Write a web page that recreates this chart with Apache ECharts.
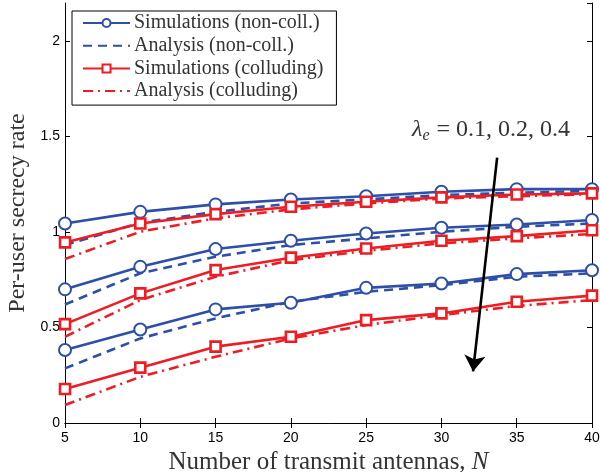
<!DOCTYPE html>
<html>
<head>
<meta charset="utf-8">
<script src="https://cdn.jsdelivr.net/npm/echarts@6/dist/echarts.min.js"></script>
<style>html,body{margin:0;padding:0;background:#fff}#c{width:600px;height:472px}</style>
</head>
<body>
<div id="c"></div>
<script>
const N = [5, 10, 15, 20, 25, 30, 35, 40];
// Simulations (non-colluding), lambda_e = 0.1, 0.2, 0.4
const simNon1 = [1.045, 1.106, 1.145, 1.171, 1.188, 1.211, 1.225, 1.225];
const simNon2 = [0.700, 0.818, 0.911, 0.955, 0.993, 1.023, 1.040, 1.063];
const simNon4 = [0.382, 0.490, 0.595, 0.630, 0.708, 0.731, 0.780, 0.800];
// Analysis (non-colluding)
const anaNon1 = [0.932, 1.049, 1.106, 1.150, 1.171, 1.194, 1.206, 1.216];
const anaNon2 = [0.621, 0.784, 0.871, 0.932, 0.967, 1.002, 1.028, 1.045];
const anaNon4 = [0.286, 0.443, 0.548, 0.635, 0.687, 0.722, 0.766, 0.784];
// Simulations (colluding)
const simCol1 = [0.946, 1.045, 1.094, 1.133, 1.159, 1.182, 1.197, 1.203];
const simCol2 = [0.518, 0.679, 0.801, 0.866, 0.914, 0.955, 0.979, 1.010];
const simCol4 = [0.178, 0.290, 0.400, 0.452, 0.539, 0.574, 0.635, 0.667];
// Analysis (colluding)
const anaCol1 = [0.859, 1.002, 1.072, 1.119, 1.150, 1.176, 1.188, 1.199];
const anaCol2 = [0.452, 0.644, 0.766, 0.853, 0.902, 0.941, 0.967, 0.990];
const anaCol4 = [0.094, 0.242, 0.347, 0.443, 0.513, 0.565, 0.613, 0.644];
// arrow annotation endpoints (data coords)
const arrowFrom = [33.7, 1.39];
const arrowTo = [32.1, 0.27];

const names = ['Simulations (non-coll.)', 'Analysis (non-coll.)', 'Simulations (colluding)', 'Analysis (colluding)'];
const BLUE = '#2D4FA7', RED = '#EE1D24';
const pair = arr => arr.map((v, i) => [N[i], v]);
const serif = 'Liberation Serif';

function mk(name, arr, color, kind) {
  const s = { name, type: 'line', data: pair(arr), clip: false, animation: false,
    lineStyle: { color, width: 2.6 }, itemStyle: { color } , z: 3};
  if (kind === 'simNon') { s.symbol = 'emptyCircle'; s.symbolSize = 12; s.itemStyle = { color, borderWidth: 2.6, borderColor: color }; }
  else if (kind === 'simCol') { s.symbol = 'rect'; s.symbolSize = 10; s.itemStyle = { color: '#fff', borderWidth: 2.6, borderColor: color }; }
  else if (kind === 'anaNon') { s.symbol = 'none'; s.lineStyle.type = [9, 6]; }
  else { s.symbol = 'none'; s.lineStyle.type = [10, 5, 2, 5]; }
  return s;
}

const series = [
  mk(names[0], simNon1, BLUE, 'simNon'), mk(names[0], simNon2, BLUE, 'simNon'), mk(names[0], simNon4, BLUE, 'simNon'),
  mk(names[1], anaNon1, BLUE, 'anaNon'), mk(names[1], anaNon2, BLUE, 'anaNon'), mk(names[1], anaNon4, BLUE, 'anaNon'),
  mk(names[2], simCol1, RED, 'simCol'), mk(names[2], simCol2, RED, 'simCol'), mk(names[2], simCol4, RED, 'simCol'),
  mk(names[3], anaCol1, RED, 'anaCol'), mk(names[3], anaCol2, RED, 'anaCol'), mk(names[3], anaCol4, RED, 'anaCol'),
  { type: 'line', data: [], silent: true, animation: false, z: 5,
    markLine: { silent: true, symbol: ['none', 'arrow'], symbolSize: 16, label: { show: false },
      itemStyle: { color: '#000' },
      lineStyle: { color: '#000', width: 2.6, type: 'solid' },
      emphasis: { disabled: true },
      data: [[{ coord: arrowFrom }, { coord: arrowTo }]] } }
];

const tickStyle = { show: true, inside: true, length: 5, lineStyle: { color: '#000', width: 1 } };
const axLine = { show: true, lineStyle: { color: '#000', width: 1 } };
const labelStyle = { color: '#000', fontSize: 14, fontFamily: 'Liberation Sans' };
const hideSym = { opacity: 0, borderWidth: 0 };

const chart = echarts.init(document.getElementById('c'), null, { renderer: 'canvas' });
chart.setOption({
  animation: false,
  backgroundColor: '#fff',
  grid: { left: 65, right: 8, top: 3, bottom: 49, outerBoundsMode: 'none' },
  xAxis: [
    { type: 'value', min: 5, max: 40, interval: 5, axisLine: axLine, axisTick: tickStyle,
      axisLabel: Object.assign({ margin: 8 }, labelStyle), splitLine: { show: false },
      name: '{a|Number of transmit antennas, }{b|N}', nameLocation: 'middle', nameGap: 22,
      nameTextStyle: { rich: { a: { fontFamily: serif, fontSize: 25, color: '#333' }, b: { fontFamily: serif, fontSize: 25, fontStyle: 'italic', color: '#333' } } } },
    { type: 'value', position: 'top', min: 5, max: 40, interval: 5, axisLine: axLine, axisTick: tickStyle,
      axisLabel: { show: false }, splitLine: { show: false } }
  ],
  yAxis: [
    { type: 'value', min: 0, max: 2.2, interval: 0.5, axisLine: axLine, axisTick: tickStyle,
      axisLabel: Object.assign({ margin: 5, showMaxLabel: false }, labelStyle), splitLine: { show: false },
      name: 'Per-user secrecy rate', nameLocation: 'middle', nameGap: 35,
      nameTextStyle: { fontFamily: serif, fontSize: 24, color: '#333' } },
    { type: 'value', position: 'right', min: 0, max: 2.2, interval: 0.5, axisLine: axLine, axisTick: tickStyle,
      axisLabel: { show: false }, splitLine: { show: false } }
  ],
  legend: {
    data: [ { name: names[0] }, { name: names[1], itemStyle: hideSym }, { name: names[2] }, { name: names[3], itemStyle: hideSym } ],
    orient: 'vertical', left: 72, top: 11,
    itemWidth: 47, itemHeight: 10, itemGap: 2.7, padding: [2, 13, 4, 10],
    borderColor: '#000', borderWidth: 1, backgroundColor: '#fff',
    textStyle: { fontFamily: serif, fontSize: 20, lineHeight: 20, color: '#333', padding: [0, 0, 0, -1] }
  },
  graphic: [
    { type: 'text', left: 412, top: 118, z: 10,
      style: { text: '{l|λ}{s|e}{t| = 0.1, 0.2, 0.4}',
        rich: { l: { fontFamily: serif, fontSize: 24, fontStyle: 'italic', fill: '#333' },
                s: { fontFamily: serif, fontSize: 16, fontStyle: 'italic', fill: '#333', verticalAlign: 'bottom', padding: [12, 1, 0, 0] },
                t: { fontFamily: serif, fontSize: 24, fill: '#333' } } } }
  ],
  series
});
</script>
</body>
</html>
